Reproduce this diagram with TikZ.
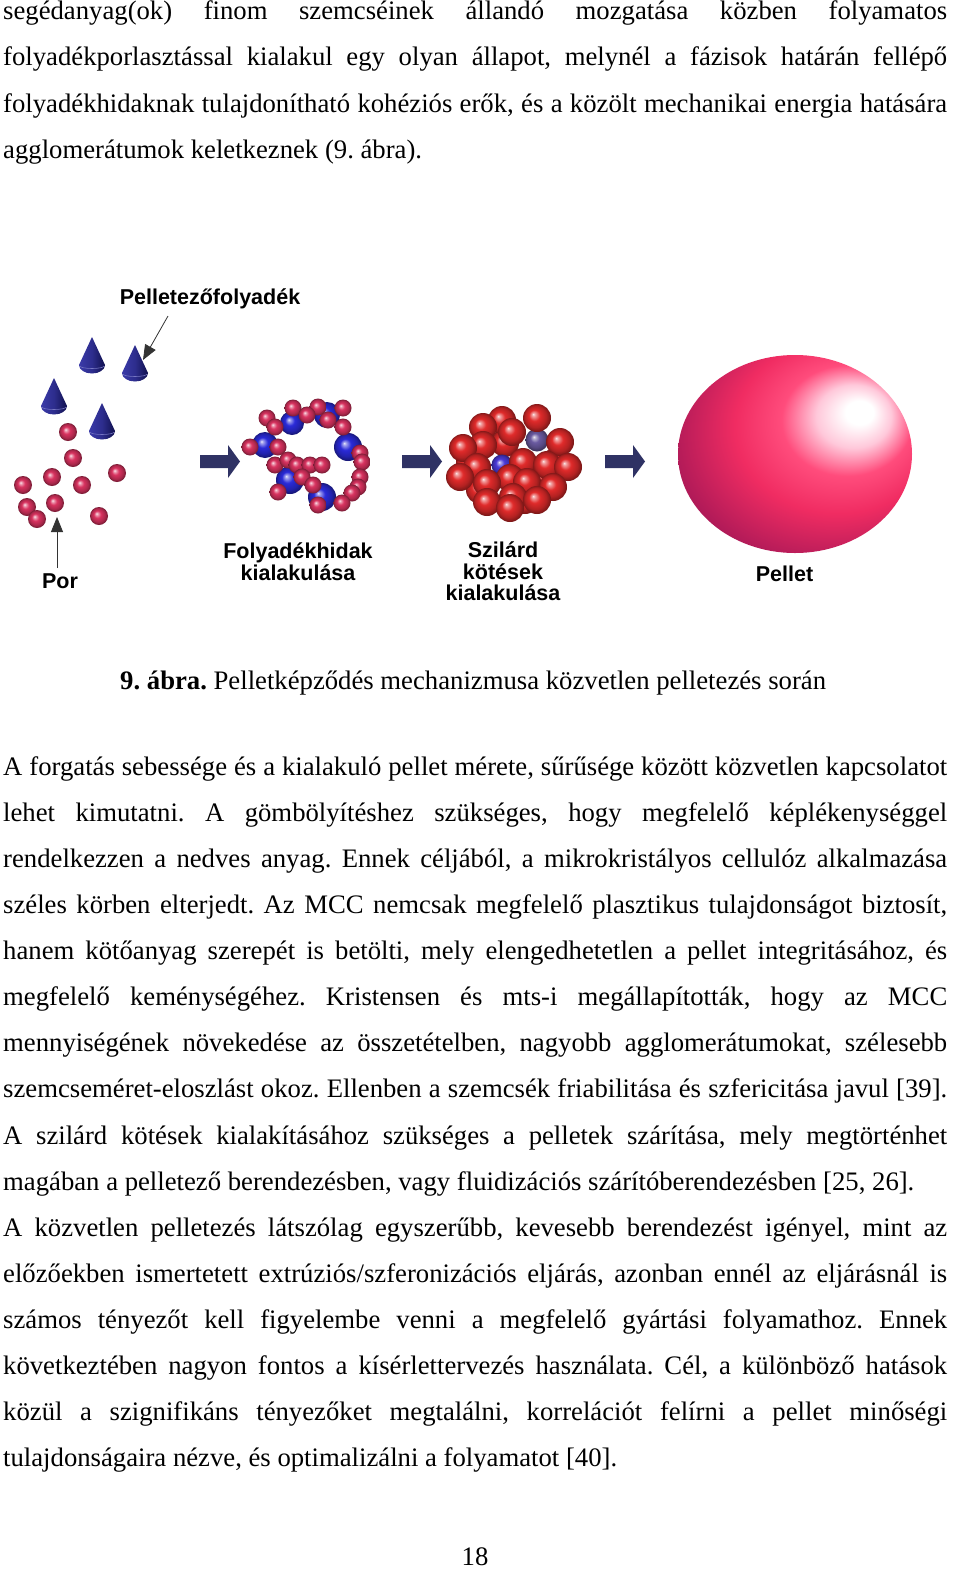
\documentclass[tikz,border=0pt]{standalone}
\usepackage{fontspec}
\setmainfont{Liberation Serif}
\newfontfamily\labelfont{Liberation Sans}
\usetikzlibrary{arrows.meta}

\definecolor{porred}{HTML}{D8325F}
\definecolor{bridgeblue}{HTML}{2A2AD8}
\definecolor{bondred}{HTML}{E02A2A}
\definecolor{bondviolet}{HTML}{6A5AA0}
\definecolor{bondblue}{HTML}{4A3AD8}
\definecolor{dropdark}{HTML}{10104E}
\definecolor{droplight}{HTML}{3A3AA8}
\definecolor{arrowblue}{HTML}{2F3264}
\definecolor{pellpale}{HTML}{FFC8DA}
\definecolor{pellpink}{HTML}{FF4C7C}
\definecolor{pellred}{HTML}{F02C62}
\definecolor{pellmag}{HTML}{B01A58}
\definecolor{pelldark}{HTML}{96165A}

\pgfdeclareradialshading{pelletball}{\pgfpoint{14.5bp}{11bp}}{color(0bp)=(white); color(3bp)=(white); color(8bp)=(pellpale); color(14bp)=(pellpink); color(22bp)=(pellred); color(33bp)=(pellmag); color(42bp)=(pelldark); color(60bp)=(pelldark)}
\pgfdeclareradialshading[spherecol]{sphere}{\pgfpoint{-7bp}{7bp}}{color(0bp)=(spherecol!10!white); color(3bp)=(spherecol!45!white); color(10bp)=(spherecol); color(19bp)=(spherecol!80!black); color(25bp)=(spherecol!55!black); color(30bp)=(spherecol!55!black)}

\frenchspacing

\tikzset{
  bodyline/.style={anchor=base west, inner sep=0pt, font=\fontsize{26.7}{30}\selectfont},
  figlabel/.style={inner sep=0pt, align=center, font=\labelfont\bfseries\fontsize{21.5}{21.5}\selectfont},
  labelarrow/.style={draw=black!80, line width=0.8pt, -{Triangle[length=15pt,width=12pt]}},
  droplet/.style={left color=droplight, right color=dropdark, middle color=droplight!70!dropdark},
  sphere/.style={/utils/exec={\colorlet{spherecol}{#1}}, shading=sphere},
  blockarrow/.style={fill=arrowblue}
}

\begin{document}
\begin{tikzpicture}[x=1pt,y=-1pt]
  \fill[white] (0,0) rectangle (960,1587);
  \useasboundingbox (0,0) rectangle (960,1587);

  % text above the figure
  \node[bodyline] (top1) at (3,20) {\makebox[944pt][s]{segédanyag(ok) finom szemcséinek állandó mozgatása közben folyamatos}};
  \node[bodyline] (top2) at (3,66) {\makebox[944pt][s]{folyadékporlasztással kialakul egy olyan állapot, melynél a fázisok határán fellépő}};
  \node[bodyline] (top3) at (3,112) {\makebox[944pt][s]{folyadékhidaknak tulajdonítható kohéziós erők, és a közölt mechanikai energia hatására}};
  \node[bodyline] (top4) at (3,158) {agglomerátumok keletkeznek (9. ábra).};

  % powder and droplets
  \foreach \x/\y in {92/337, 135/345, 54/378, 102/403} {
    \shade[droplet] (\x,\y) -- (\x-13,\y+28) arc[start angle=180, end angle=0, x radius=13, y radius=8.5] -- cycle;
    \draw[droplight!70!white, line width=0.6pt] (\x-12,\y+29) arc[start angle=180, end angle=0, x radius=12, y radius=2.5];
  }
  \foreach \x/\y in {68/432, 73/458, 52/477, 117/473, 82/485, 23/485, 55/503, 27/507, 37/519, 99/516}
    \shade[sphere=porred] (\x,\y) circle[radius=9];

  \node[figlabel, anchor=base] (liquid) at (210,304) {Pelletezőfolyadék};
  \coordinate (liqstart) at (168,316);
  \coordinate (liqend) at (143,360);
  \draw[labelarrow] (liqstart) -- (liqend);
  \node[figlabel, anchor=base] (powder) at (60,588) {Por};
  \coordinate (porstart) at (57,568);
  \coordinate (porend) at (57,517);
  \draw[labelarrow] (porstart) -- (porend);

  % block arrows
  \foreach \x in {200,402,605}
    \fill[blockarrow] (\x,455) -- (\x+28,455) -- (\x+28,445) -- (\x+40,461.5) -- (\x+28,478) -- (\x+28,468) -- (\x,468) -- cycle;

  % liquid bridges
  \foreach \x/\y/\r in {265/445/13, 292/423/12, 327/415/13, 348/447/14, 290/480/14, 322/497/14}
    \shade[sphere=bridgeblue] (\x,\y) circle[radius=\r];
  \foreach \x/\y in {293/408, 318/407, 343/408, 267/418, 275/427, 307/415, 328/420, 343/427,
                     250/447, 278/447, 360/453, 362/462, 275/465, 288/460, 297/465, 310/465,
                     322/465, 302/477, 313/485, 360/477, 358/487, 352/493, 278/492, 318/505, 342/503}
    \shade[sphere=porred] (\x,\y) circle[radius=8.5];
  \node[figlabel, anchor=north] (bridges) at (298,543) {Folyadékhidak\\kialakulása};

  % solid bonds
  \foreach \x/\y in {505/443, 540/480, 480/490, 525/500, 470/462, 555/462}
    \shade[sphere=bondred] (\x,\y) circle[radius=14];
  \shade[sphere=bondviolet] (537,440) circle[radius=11.5];
  \shade[sphere=bondblue] (502,465) circle[radius=10.5];
  \foreach \x/\y in {537/418, 502/420, 483/427, 512/432, 560/442, 483/445, 463/448, 523/462,
                     547/465, 568/467, 477/467, 460/477, 510/478, 527/482, 487/483, 553/487,
                     513/497, 537/500, 487/502, 510/508}
    \shade[sphere=bondred] (\x,\y) circle[radius=14];
  \node[figlabel, anchor=north] (bonds) at (503,542) {Szilárd\\kötések\\kialakulása};

  % pellet
  \shade[shading=pelletball] (795,454) ellipse[x radius=117, y radius=99];
  \node[figlabel, anchor=base] (pellet) at (784.5,581) {Pellet};

  % caption
  \node[bodyline] (caption) at (120,689) {\textbf{9. ábra.} Pelletképződés mechanizmusa közvetlen pelletezés során};

  % text below the figure
  \node[bodyline] (body1) at (3,775) {\makebox[944pt][s]{A forgatás sebessége és a kialakuló pellet mérete, sűrűsége között közvetlen kapcsolatot}};
  \node[bodyline] (body2) at (3,821) {\makebox[944pt][s]{lehet kimutatni. A gömbölyítéshez szükséges, hogy megfelelő képlékenységgel}};
  \node[bodyline] (body3) at (3,867) {\makebox[944pt][s]{rendelkezzen a nedves anyag. Ennek céljából, a mikrokristályos cellulóz alkalmazása}};
  \node[bodyline] (body4) at (3,913) {\makebox[944pt][s]{széles körben elterjedt. Az MCC nemcsak megfelelő plasztikus tulajdonságot biztosít,}};
  \node[bodyline] (body5) at (3,959) {\makebox[944pt][s]{hanem kötőanyag szerepét is betölti, mely elengedhetetlen a pellet integritásához, és}};
  \node[bodyline] (body6) at (3,1005) {\makebox[944pt][s]{megfelelő keménységéhez. Kristensen és mts-i megállapították, hogy az MCC}};
  \node[bodyline] (body7) at (3,1051) {\makebox[944pt][s]{mennyiségének növekedése az összetételben, nagyobb agglomerátumokat, szélesebb}};
  \node[bodyline] (body8) at (3,1097) {\makebox[944pt][s]{szemcseméret-eloszlást okoz. Ellenben a szemcsék friabilitása és szfericitása javul [39].}};
  \node[bodyline] (body9) at (3,1144) {\makebox[944pt][s]{A szilárd kötések kialakításához szükséges a pelletek szárítása, mely megtörténhet}};
  \node[bodyline] (body10) at (3,1190) {magában a pelletező berendezésben, vagy fluidizációs szárítóberendezésben [25, 26].};
  \node[bodyline] (body11) at (3,1236) {\makebox[944pt][s]{A közvetlen pelletezés látszólag egyszerűbb, kevesebb berendezést igényel, mint az}};
  \node[bodyline] (body12) at (3,1282) {\makebox[944pt][s]{előzőekben ismertetett extrúziós/szferonizációs eljárás, azonban ennél az eljárásnál is}};
  \node[bodyline] (body13) at (3,1328) {\makebox[944pt][s]{számos tényezőt kell figyelembe venni a megfelelő gyártási folyamathoz. Ennek}};
  \node[bodyline] (body14) at (3,1374) {\makebox[944pt][s]{következtében nagyon fontos a kísérlettervezés használata. Cél, a különböző hatások}};
  \node[bodyline] (body15) at (3,1420) {\makebox[944pt][s]{közül a szignifikáns tényezőket megtalálni, korrelációt felírni a pellet minőségi}};
  \node[bodyline] (body16) at (3,1466) {tulajdonságaira nézve, és optimalizálni a folyamatot [40].};

  % page number
  \node[bodyline, anchor=base] (pagenum) at (475,1565) {18};
\end{tikzpicture}
\end{document}
